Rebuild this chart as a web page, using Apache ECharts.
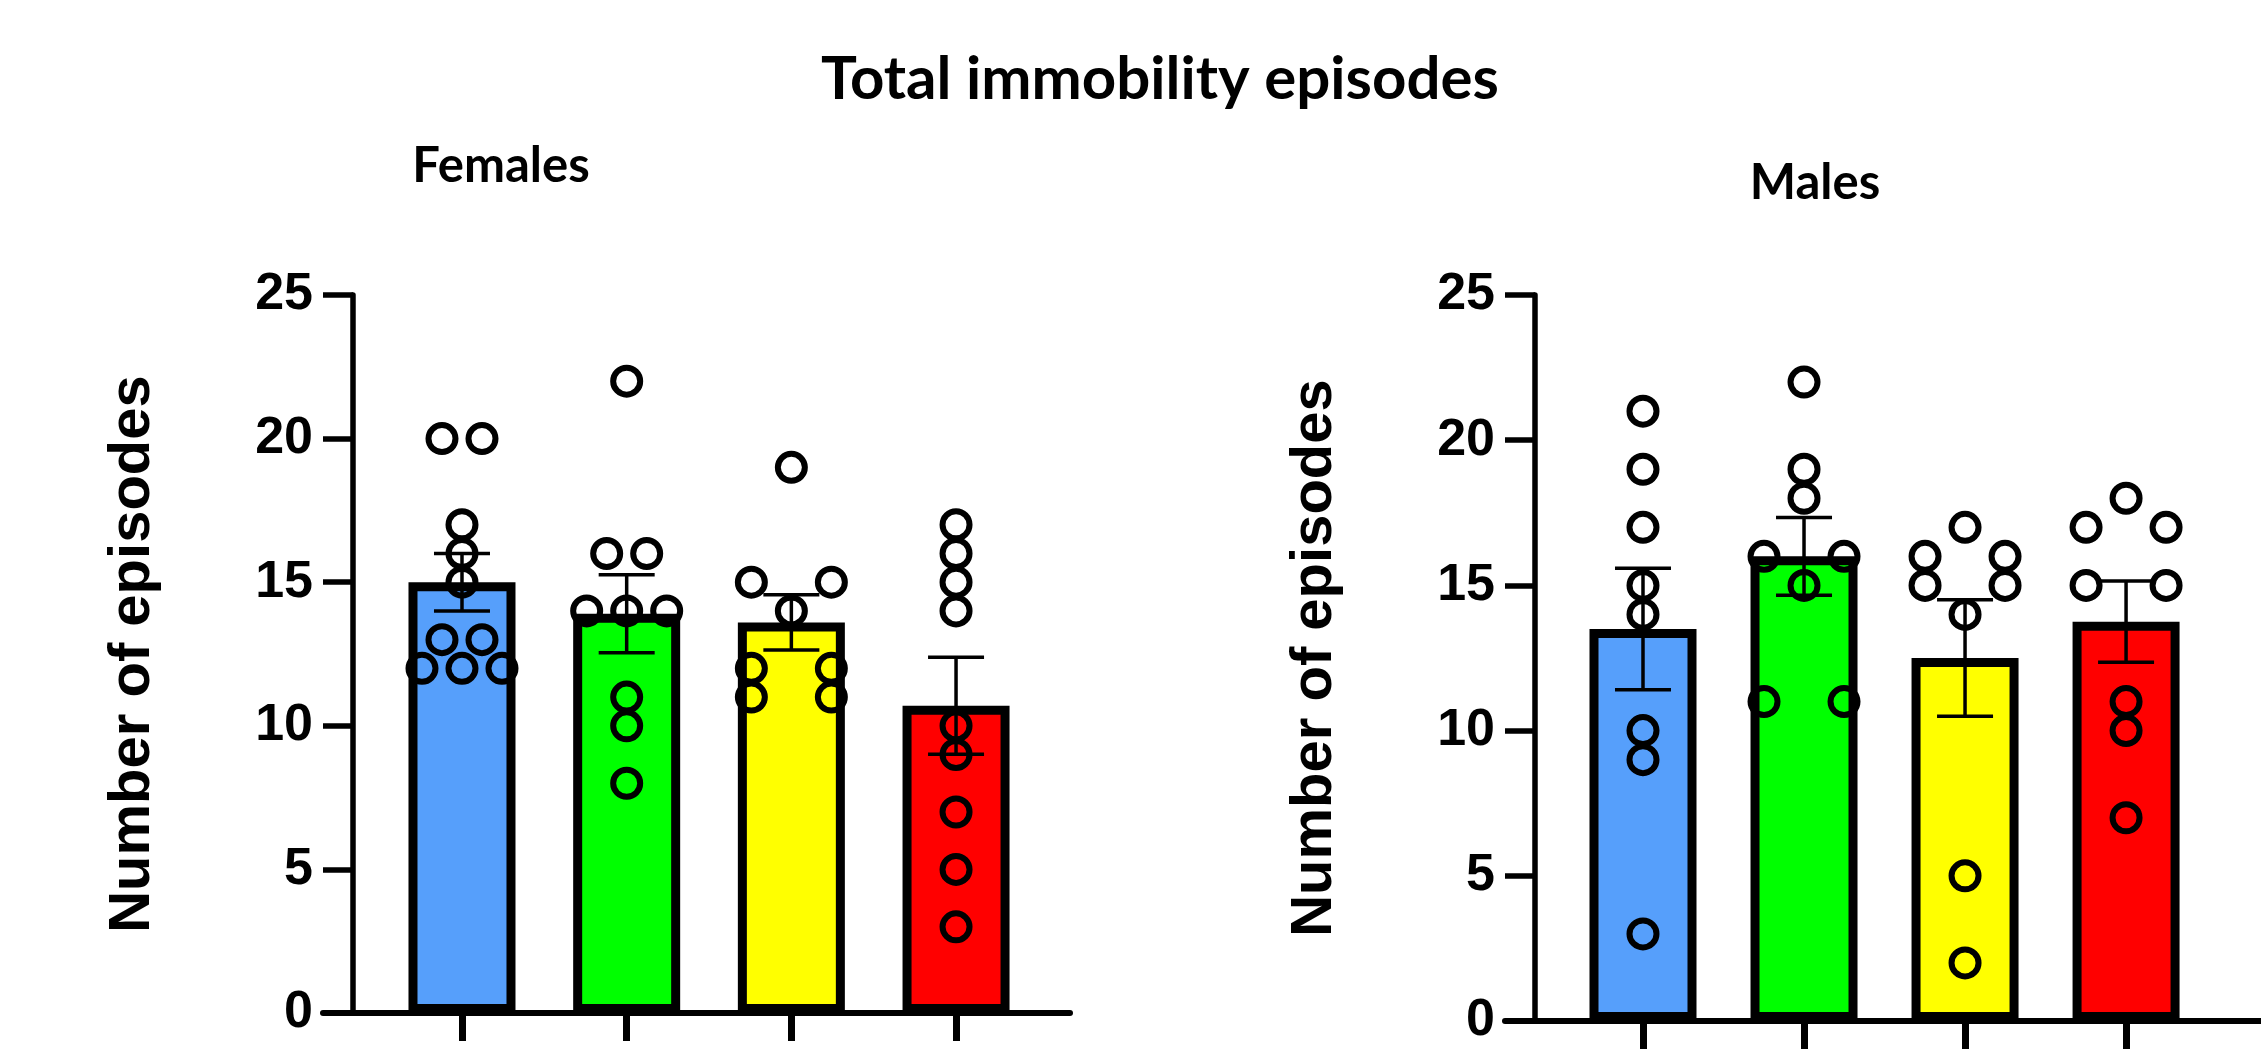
<!DOCTYPE html>
<html>
<head>
<meta charset="utf-8">
<script src="https://cdn.jsdelivr.net/npm/echarts@6/dist/echarts.min.js"></script>
<style>
  html, body { margin: 0; padding: 0; background: #fff; }
  #chart { width: 2261px; height: 1051px; }
</style>
</head>
<body>
<div id="chart"></div>
<script>
// Four treatment groups per sex, in bar order (left to right)
const groups = ['Group 1', 'Group 2', 'Group 3', 'Group 4'];
const groupColors = ['#569FFB', '#00FF00', '#FFFF00', '#FF0000'];

// y-axis ticks
const yTicks = [0, 5, 10, 15, 20, 25];

// Individual animals: immobility episodes
const femalesG1 = [20, 20, 17, 16, 15, 13, 13, 12, 12, 12];
const femalesG2 = [22, 16, 16, 14, 14, 14, 11, 10, 8];
const femalesG3 = [19, 15, 15, 14, 12, 12, 11, 11];
const femalesG4 = [17, 16, 15, 14, 10, 9, 7, 5, 3];

const malesG1 = [21, 19, 17, 15, 14, 10, 9, 3];
const malesG2 = [22, 19, 18, 16, 16, 15, 11, 11];
const malesG3 = [17, 16, 16, 15, 15, 14, 5, 2];
const malesG4 = [18, 17, 17, 15, 15, 11, 10, 7];

// Group means and SEM
const femalesMean = [15.0, 13.9, 13.6, 10.7];
const femalesSem = [1.0, 1.36, 0.96, 1.69];
const malesMean = [13.5, 16.0, 12.5, 13.75];
const malesSem = [2.09, 1.34, 2.01, 1.40];

// ---- layout ----
const panels = [
  { title: 'Females', points: [femalesG1, femalesG2, femalesG3, femalesG4],
    mean: femalesMean, sem: femalesSem,
    grid: { left: 323, top: 295, width: 747, height: 718 },
    xMin: -0.844, xMax: 3.692, titleX: 501, titleY: 166 },
  { title: 'Males', points: [malesG1, malesG2, malesG3, malesG4],
    mean: malesMean, sem: malesSem,
    grid: { left: 1505, top: 295, width: 770, height: 726 },
    xMin: -0.857, xMax: 3.838, titleX: 1815, titleY: 183 }
];

const AXIS_FONT = '"Liberation Sans", Arial, Helvetica, sans-serif';
const TITLE_FONT = 'Lato, "Open Sans", sans-serif';

// Spread tied values side by side (column scatter)
function swarmOffsets(values) {
  const counts = {};
  values.forEach(v => { counts[v] = (counts[v] || 0) + 1; });
  const maxRun = Math.max.apply(null, Object.values(counts));
  const step = maxRun >= 3 ? 40 : 80;
  const seen = {};
  return values.map(v => {
    const i = seen[v] = (seen[v] === undefined ? 0 : seen[v] + 1);
    return (i - (counts[v] - 1) / 2) * step;
  });
}

const grids = [], xAxes = [], yAxes = [], series = [];

panels.forEach((p, k) => {
  grids.push(Object.assign({ containLabel: false }, p.grid));

  xAxes.push({
    type: 'value', gridIndex: k, min: p.xMin, max: p.xMax,
    axisLine: { show: true, onZero: false, lineStyle: { color: '#000', width: 6 } },
    axisTick: { show: true, customValues: groups.map((g, i) => i), length: 28,
                lineStyle: { color: '#000', width: 7 } },
    axisLabel: { show: false },
    splitLine: { show: false }
  });

  yAxes.push({
    type: 'value', gridIndex: k, min: yTicks[0], max: yTicks[yTicks.length - 1],
    interval: yTicks[1] - yTicks[0], offset: -30,
    axisLine: { show: true, onZero: false, lineStyle: { color: '#000', width: 5.5 } },
    axisTick: { show: true, length: 30, lineStyle: { color: '#000', width: 5.5 } },
    axisLabel: { color: '#000', fontFamily: AXIS_FONT, fontWeight: 'bold', fontSize: 52, margin: 40 },
    splitLine: { show: false },
    name: 'Number of episodes', nameLocation: 'middle', nameRotate: 90, nameGap: 191,
    nameTextStyle: { color: '#000', fontFamily: AXIS_FONT, fontWeight: 'bold', fontSize: 58 }
  });

  series.push({
    type: 'bar', xAxisIndex: k, yAxisIndex: k, barWidth: 107, z: 2, silent: true,
    data: p.mean.map((m, i) => ({ value: [i, m], itemStyle: { color: groupColors[i] } })),
    itemStyle: { borderColor: '#000', borderWidth: 9 }
  });

  const pts = [];
  p.points.forEach((vals, i) => {
    const off = swarmOffsets(vals);
    vals.forEach((v, j) => pts.push({ value: [i, v], symbolOffset: [off[j], 0] }));
  });
  series.push({
    type: 'scatter', xAxisIndex: k, yAxisIndex: k, z: 3, silent: true,
    symbol: 'circle', symbolSize: 27,
    itemStyle: { color: 'rgba(0,0,0,0)', borderColor: '#000', borderWidth: 6, opacity: 1 },
    data: pts
  });

  series.push({
    type: 'custom', xAxisIndex: k, yAxisIndex: k, z: 4, silent: true,
    data: p.mean.map((m, i) => [i, m, p.sem[i]]),
    renderItem: function (params, api) {
      const x = api.value(0), m = api.value(1), s = api.value(2);
      const top = api.coord([x, m + s]);
      const bot = api.coord([x, m - s]);
      const cap = 28;
      const st = { stroke: '#000', lineWidth: 3.5 };
      return {
        type: 'group',
        children: [
          { type: 'line', shape: { x1: top[0], y1: top[1], x2: bot[0], y2: bot[1] }, style: st },
          { type: 'line', shape: { x1: top[0] - cap, y1: top[1], x2: top[0] + cap, y2: top[1] }, style: st },
          { type: 'line', shape: { x1: bot[0] - cap, y1: bot[1], x2: bot[0] + cap, y2: bot[1] }, style: st }
        ]
      };
    }
  });
});

const graphics = [
  { type: 'text', x: 1160, y: 80,
    style: { text: 'Total immobility episodes', fill: '#000',
             font: 'bold 60px ' + TITLE_FONT, textAlign: 'center', textVerticalAlign: 'middle',
             align: 'center', verticalAlign: 'middle' } }
];
panels.forEach(p => {
  graphics.push({ type: 'text', x: p.titleX, y: p.titleY,
    style: { text: p.title, fill: '#000', font: 'bold 49px ' + TITLE_FONT,
             textAlign: 'center', textVerticalAlign: 'middle', align: 'center', verticalAlign: 'middle' } });
});

const chart = echarts.init(document.getElementById('chart'), null, { renderer: 'canvas' });
chart.setOption({
  animation: false,
  backgroundColor: '#fff',
  grid: grids,
  xAxis: xAxes,
  yAxis: yAxes,
  series: series,
  graphic: graphics
});
</script>
</body>
</html>
